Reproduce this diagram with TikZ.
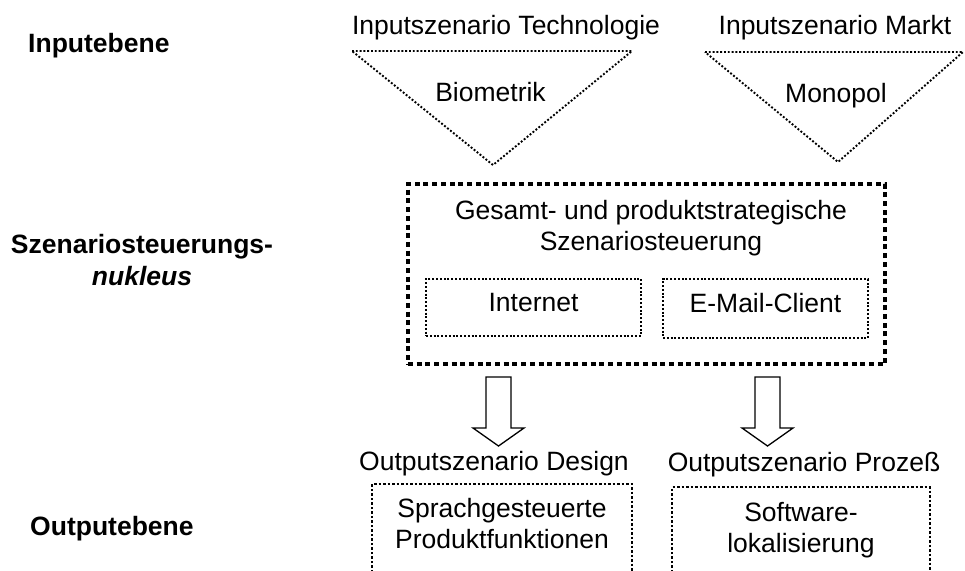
\documentclass[tikz,border=0pt]{standalone}
\usepackage{fontspec}
\setmainfont{Liberation Sans}
\usetikzlibrary{calc}
\newcommand\drawblockarrow[2]{% #1: top of the shaft, #2: tip
  \draw[blockarrow] ($(#1)+(-12.5,0)$) -- ($(#1)+(12.5,0)$) -- ($(#2)+(12.5,-18)$)
    -- ($(#2)+(25.5,-18)$) -- (#2) -- ($(#2)+(-25.5,-18)$) -- ($(#2)+(-12.5,-18)$) -- cycle;}
\begin{document}
\begin{tikzpicture}[x=1pt,y=-1pt,
  font=\fontsize{26.5}{31}\selectfont,
  lbl/.style={inner sep=0pt, anchor=base, align=center},
  side/.style={lbl, font=\fontsize{26.5}{32}\selectfont\bfseries},
  tri/.style={draw, line width=1.9pt, dash pattern=on 1.9pt off 1.9pt},
  core/.style={draw, line width=4.5pt, dash pattern=on 5pt off 3.7pt, inner sep=0pt},
  sub/.style={draw, line width=2pt, dash pattern=on 2pt off 1.8pt, inner sep=0pt,
    text height=0.716em, text depth=0pt},
  outbox/.style={draw, line width=2.5pt, dash pattern=on 2.5pt off 2pt},
  blockarrow/.style={draw, line width=1.3pt, fill=white, line join=miter}]
\useasboundingbox (0,0) rectangle (965,570);

% level labels on the left (base anchor of a two-line label = its last line)
\node[side, anchor=base west] (lin) at (28,52) {Inputebene};
\node[side] (lcore) at (142,285) {Szenariosteuerungs-\\\textit{nukleus}};
\node[side, anchor=base west] (lout) at (30,535) {Outputebene};

% input scenarios (funnels)
\coordinate (t1a) at (352,51); \coordinate (t1b) at (632,51); \coordinate (t1c) at (493,165);
\coordinate (t2a) at (705,52); \coordinate (t2b) at (963,52); \coordinate (t2c) at (838,162);
\draw[tri] (t1a) -- (t1b) -- (t1c) -- cycle;
\draw[tri] (t2a) -- (t2b) -- (t2c) -- cycle;
\node[lbl] (in1) at (506,34) {Inputszenario Technologie};
\node[lbl] (in2) at (835,34) {Inputszenario Markt};
\node[lbl] (bio) at (490.5,101) {Biometrik};
\node[lbl] (mono) at (836,102) {Monopol};

% control nucleus
\node[core, minimum width=477pt, minimum height=180pt] (core) at (646.5,274) {};
\node[lbl] (coretxt) at (651,250) {Gesamt- und produktstrategische\\Szenariosteuerung};
\node[sub, minimum width=215pt, minimum height=57pt] (inet) at (533.5,307.5) {Internet};
\node[sub, minimum width=205pt, minimum height=59pt] (mail) at (765.5,308.5) {E-Mail-Client};

% block arrows to the output scenarios
\coordinate (a1s) at (498.5,377); \coordinate (a1t) at (498.5,446);
\coordinate (a2s) at (767.5,377); \coordinate (a2t) at (767.5,446);
\drawblockarrow{a1s}{a1t}
\drawblockarrow{a2s}{a2t}

% output scenarios
\node[lbl] (out1) at (494,470) {Outputszenario Design};
\node[lbl] (out2) at (804,471) {Outputszenario Prozeß};
\draw[outbox] (372,572) -- (372,484) -- (632,484) -- (632,572);
\draw[outbox] (672,572) -- (672,487) -- (930,487) -- (930,572);
\node[lbl] (o1) at (502,548) {Sprachgesteuerte\\Produktfunktionen};
\node[lbl] (o2) at (801,552) {Software-\\lokalisierung};
\end{tikzpicture}
\end{document}
